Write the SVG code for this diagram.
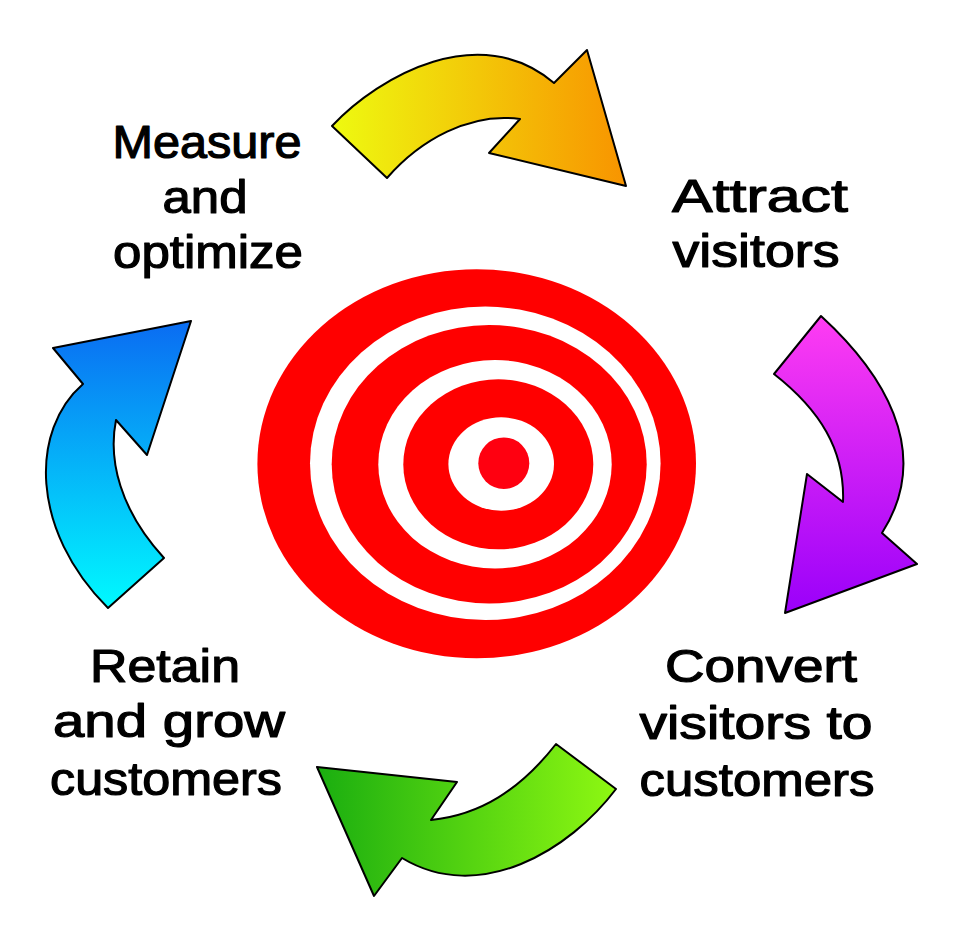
<svg xmlns="http://www.w3.org/2000/svg" width="960" height="930" viewBox="0 0 960 930">
<defs>
<linearGradient id="gY" x1="0" y1="0" x2="1" y2="0"><stop offset="0" stop-color="#eefa10"/><stop offset="1" stop-color="#f89400"/></linearGradient>
<linearGradient id="gP" x1="0" y1="0" x2="0" y2="1"><stop offset="0" stop-color="#ff3cf2"/><stop offset="1" stop-color="#9a00fa"/></linearGradient>
<linearGradient id="gG" x1="0" y1="0" x2="1" y2="0"><stop offset="0" stop-color="#1aae10"/><stop offset="1" stop-color="#8ef812"/></linearGradient>
<linearGradient id="gB" x1="0" y1="0" x2="0" y2="1"><stop offset="0" stop-color="#0a6cf2"/><stop offset="1" stop-color="#00faff"/></linearGradient>
<style>
.arr{stroke:#000;stroke-width:2;stroke-linejoin:round}
.lbl{font-family:"Liberation Sans","DejaVu Sans",sans-serif;font-size:46px;fill:#000;stroke:#000;stroke-width:1.2px;stroke-linejoin:round;text-anchor:middle}
.red{fill:#ff0000}
.wht{fill:#ffffff}
</style>
</defs>
<rect width="960" height="930" fill="#fff"/>
<g id="target">
<ellipse class="red" cx="476.7" cy="463.8" rx="219.3" ry="194.5"/>
<ellipse class="wht" cx="485.3" cy="463.3" rx="175.3" ry="156.7"/>
<ellipse class="red" cx="489.2" cy="464.2" rx="157.5" ry="139.2"/>
<ellipse class="wht" cx="495" cy="464.2" rx="116.7" ry="104.2"/>
<ellipse class="red" cx="498.3" cy="464.3" rx="95" ry="85"/>
<ellipse class="wht" cx="501.2" cy="464" rx="52.8" ry="46.7"/>
<ellipse cx="503.8" cy="463.2" rx="25.5" ry="25.8" fill="#ff0010"/>
</g>
<g id="connectors">
<path id="arrow-yellow" class="arr" fill="url(#gY)" d="M332,126 C380,75 480,20 554,83 L587,50 L626,186 L489,153 L520,119 C470,112 420,140 387,178 Z"/>
<path id="arrow-purple" class="arr" fill="url(#gP)" d="M821,316 C880,370 935,450 882,533 L917,564 L785,613 L807,474 L843,502 C845,450 820,410 774,374 Z"/>
<path id="arrow-green" class="arr" fill="url(#gG)" d="M556,744 L616,789 C570,850 480,905 402,858 L374,896 L317,767 L457,782 L431,820 C480,815 520,790 556,744 Z"/>
<path id="arrow-blue" class="arr" fill="url(#gB)" d="M191,321 L53,348 L83,384 C30,430 30,530 108,608 L164,558 C120,510 108,460 116,420 L147,455 Z"/>
</g>
<g id="measure">
<text class="lbl" x="207" y="158" textLength="189" lengthAdjust="spacingAndGlyphs">Measure</text>
<text class="lbl" x="205" y="213" textLength="85" lengthAdjust="spacingAndGlyphs">and</text>
<text class="lbl" x="208" y="268" textLength="190" lengthAdjust="spacingAndGlyphs">optimize</text>
</g>
<g id="attract">
<text class="lbl" x="760" y="212" textLength="176" lengthAdjust="spacingAndGlyphs">Attract</text>
<text class="lbl" x="756" y="267" textLength="167" lengthAdjust="spacingAndGlyphs">visitors</text>
</g>
<g id="convert">
<text class="lbl" x="761" y="682" textLength="192" lengthAdjust="spacingAndGlyphs">Convert</text>
<text class="lbl" x="756" y="739" textLength="233" lengthAdjust="spacingAndGlyphs">visitors to</text>
<text class="lbl" x="757" y="796" textLength="235" lengthAdjust="spacingAndGlyphs">customers</text>
</g>
<g id="retain">
<text class="lbl" x="165" y="682" textLength="150" lengthAdjust="spacingAndGlyphs">Retain</text>
<text class="lbl" x="169" y="737" textLength="232" lengthAdjust="spacingAndGlyphs">and grow</text>
<text class="lbl" x="166" y="795" textLength="232" lengthAdjust="spacingAndGlyphs">customers</text>
</g>
</svg>
